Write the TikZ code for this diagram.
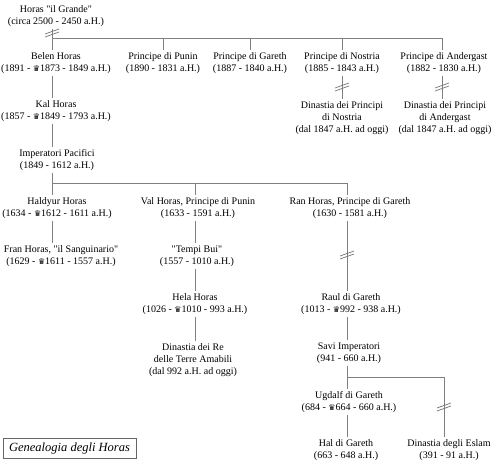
\documentclass[tikz,border=0pt]{standalone}
\usepackage{fontspec}
\setmainfont{Liberation Serif}[Ligatures=TeXOff]
\newfontfamily\dejavu{DejaVu Sans}
\newcommand\crn{{\dejavu\fontsize{8}{8}\selectfont ♛}}
\newcommand\brkmark[1]{\draw[brk,shift={(#1)}] (-7,4) -- (7,-1) (-7,1) -- (7,-4);}
\begin{document}
\begin{tikzpicture}[x=1pt,y=-1pt,
  person/.style={align=center,inner xsep=0pt,inner ysep=2pt,font=\fontsize{10}{12}\selectfont},
  ln/.style={draw=black!50,line width=0.9pt},
  brk/.style={draw=black!55,line width=0.7pt},
  titlebox/.style={draw=black!60,line width=0.8pt,minimum width=133pt,minimum height=20pt,inner sep=0pt,font=\fontsize{12.5}{14}\selectfont\itshape}]
\useasboundingbox (0,0) rectangle (500,465);
% nodes
\node[person] (horas) at (56,16) {Horas "il Grande"\\(circa 2500 - 2450 a.H.)};
\node[person] (belen) at (56,63) {Belen Horas\\(1891 - \crn1873 - 1849 a.H.)};
\node[person] (punin) at (163,63) {Principe di Punin\\(1890 - 1831 a.H.)};
\node[person] (gareth) at (250,63) {Principe di Gareth\\(1887 - 1840 a.H.)};
\node[person] (nostria) at (342,63) {Principe di Nostria\\(1885 - 1843 a.H.)};
\node[person] (andergast) at (444,63) {Principe di Andergast\\(1882 - 1830 a.H.)};
\node[person] (dnostria) at (342,118) {Dinastia dei Principi\\di Nostria\\(dal 1847 a.H. ad oggi)};
\node[person] (dandergast) at (445,118) {Dinastia dei Principi\\di Andergast\\(dal 1847 a.H. ad oggi)};
\node[person] (kal) at (56,111) {Kal Horas\\(1857 - \crn1849 - 1793 a.H.)};
\node[person] (imp) at (57,160) {Imperatori Pacifici\\(1849 - 1612 a.H.)};
\node[person] (haldyur) at (57,208) {Haldyur Horas\\(1634 - \crn1612 - 1611 a.H.)};
\node[person] (val) at (198,208) {Val Horas, Principe di Punin\\(1633 - 1591 a.H.)};
\node[person] (ran) at (350,208) {Ran Horas, Principe di Gareth\\(1630 - 1581 a.H.)};
\node[person] (fran) at (61,256) {Fran Horas, "il Sanguinario"\\(1629 - \crn1611 - 1557 a.H.)};
\node[person] (tempi) at (197,256) {"Tempi Bui"\\(1557 - 1010 a.H.)};
\node[person] (hela) at (195,304) {Hela Horas\\(1026 - \crn1010 - 993 a.H.)};
\node[person] (dre) at (193,360) {Dinastia dei Re\\delle Terre Amabili\\(dal 992 a.H. ad oggi)};
\node[person] (raul) at (351,304) {Raul di Gareth\\(1013 - \crn992 - 938 a.H.)};
\node[person] (savi) at (349,353) {Savi Imperatori\\(941 - 660 a.H.)};
\node[person] (ugdalf) at (349,402) {Ugdalf di Gareth\\(684 - \crn664 - 660 a.H.)};
\node[person] (hal) at (346,450) {Hal di Gareth\\(663 - 648 a.H.)};
\node[person] (eslam) at (449,450) {Dinastia degli Eslam\\(391 - 91 a.H.)};
\node[titlebox] (title) at (69.5,448) {Genealogia degli Horas};
% line columns and levels
\coordinate (xL) at (52,0);
\coordinate (xPun) at (163,0);
\coordinate (xGar) at (250,0);
\coordinate (xNos) at (342,0);
\coordinate (xAnd) at (442,0);
\coordinate (xV) at (195,0);
\coordinate (xR) at (347,0);
\coordinate (xE) at (444,0);
\coordinate (h1) at (0,38);
\coordinate (h2) at (0,183);
\coordinate (h3) at (0,377);
% connectors
\draw[ln] (xL |- horas.south) -- (xL |- belen.north);
\draw[ln] (xL |- h1) -- (xAnd |- h1) -- (xAnd |- andergast.north);
\draw[ln] (xPun |- h1) -- (xPun |- punin.north);
\draw[ln] (xGar |- h1) -- (xGar |- gareth.north);
\draw[ln] (xNos |- h1) -- (xNos |- nostria.north);
\draw[ln] (xNos |- nostria.south) -- (xNos |- dnostria.north);
\draw[ln] (xAnd |- andergast.south) -- (xAnd |- dandergast.north);
\draw[ln] (xL |- belen.south) -- (xL |- kal.north);
\draw[ln] (xL |- kal.south) -- (xL |- imp.north);
\draw[ln] (xL |- imp.south) -- (xL |- haldyur.north);
\draw[ln] (xL |- h2) -- (xR |- h2) -- (xR |- ran.north);
\draw[ln] (xV |- h2) -- (xV |- val.north);
\draw[ln] (xL |- haldyur.south) -- (xL |- fran.north);
\draw[ln] (xV |- val.south) -- (xV |- tempi.north);
\draw[ln] (xV |- tempi.south) -- (xV |- hela.north);
\draw[ln] (xV |- hela.south) -- (xV |- dre.north);
\draw[ln] (xR |- ran.south) -- (xR |- raul.north);
\draw[ln] (xR |- raul.south) -- (xR |- savi.north);
\draw[ln] (xR |- savi.south) -- (xR |- ugdalf.north);
\draw[ln] (xR |- ugdalf.south) -- (xR |- hal.north);
\draw[ln] (xR |- h3) -- (xE |- h3) -- (xE |- eslam.north);
% break marks
\coordinate (b0) at (52,33);
\coordinate (b1) at (342,87);
\coordinate (b2) at (442,87);
\coordinate (b3) at (347,255);
\coordinate (b4) at (444,407);
\brkmark{b0}
\brkmark{b1}
\brkmark{b2}
\brkmark{b3}
\brkmark{b4}
\end{tikzpicture}
\end{document}
